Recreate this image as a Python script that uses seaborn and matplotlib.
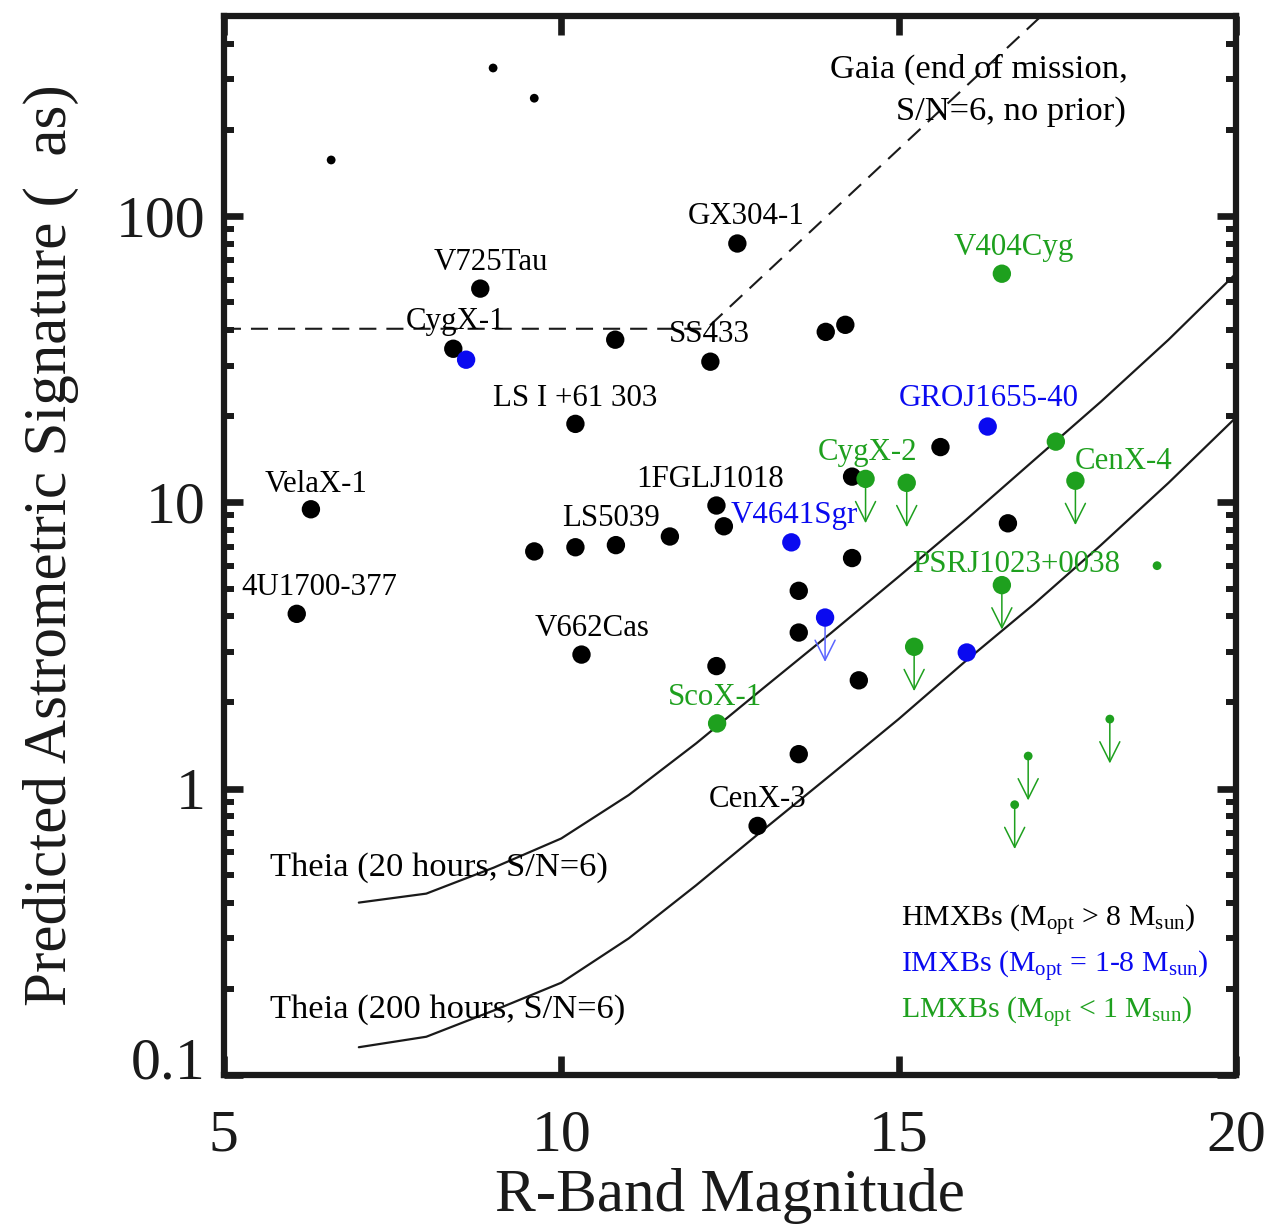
import numpy as np
import matplotlib
matplotlib.use("Agg")
import matplotlib.pyplot as plt
import matplotlib.transforms as mtransforms
from matplotlib.ticker import FixedLocator, FixedFormatter, LogLocator, NullFormatter, NullLocator
import seaborn as sns

# ---------------- data ----------------
# HMXBs (black, large dots)
hmxb_mag = [8.80, 8.40, 10.80, 12.21, 12.61, 13.92, 14.21, 10.21, 6.29, 6.08,
            9.60, 10.21, 10.81, 11.61, 12.30, 12.41, 14.31, 15.62, 16.62, 14.31,
            13.52, 13.52, 10.30, 12.30, 14.41, 13.52, 12.91]
hmxb_sig = [55.8, 34.4, 37.0, 31.0, 80.2, 39.4, 41.7, 18.8, 9.46, 4.08,
            6.74, 6.97, 7.09, 7.60, 9.75, 8.25, 12.3, 15.6, 8.45, 6.39,
            4.91, 3.51, 2.94, 2.68, 2.39, 1.32, 0.741]
# HMXBs (black, small dots)
hmxb_small_mag = [6.59, 8.99, 9.60]
hmxb_small_sig = [157.0, 329.0, 258.0]

# IMXBs (blue)
imxb_mag = [8.59, 13.41, 16.32, 16.01]
imxb_sig = [31.5, 7.25, 18.4, 2.99]
imxb_limit_mag = [13.91]
imxb_limit_sig = [3.96]

# LMXBs (green)
lmxb_mag = [16.53, 17.33, 12.31]
lmxb_sig = [62.9, 16.3, 1.69]
lmxb_limit_mag = [14.51, 15.12, 17.62, 16.53, 15.23]
lmxb_limit_sig = [12.08, 11.7, 11.9, 5.14, 3.13]
lmxb_small_mag = [18.83]
lmxb_small_sig = [6.01]
lmxb_small_limit_mag = [18.13, 16.92, 16.72]
lmxb_small_limit_sig = [1.75, 1.30, 0.879]

# sensitivity curves
theia_mag = [7, 8, 9, 10, 11, 12, 13, 14, 15, 16, 17, 18, 19, 20]
theia20_sig = [0.40, 0.43, 0.53, 0.67, 0.95, 1.44, 2.25, 3.5, 5.5, 8.7, 14.0, 22.5, 37.0, 63.0]
theia200_sig = [0.125, 0.136, 0.168, 0.21, 0.30, 0.46, 0.72, 1.12, 1.75, 2.8, 4.4, 7.1, 11.7, 19.8]
gaia_mag = [5.0, 12.15, 17.3]
gaia_sig = [40.4, 40.4, 549.0]

# source labels
label_names = ["V725Tau", "CygX-1", "SS433", "GX304-1", "LS I +61 303", "VelaX-1",
               "4U1700-377", "LS5039", "1FGLJ1018", "V662Cas", "CenX-3",
               "ScoX-1", "V4641Sgr", "GROJ1655-40", "V404Cyg", "CygX-2",
               "CenX-4", "PSRJ1023+0038"]
label_class = ["H", "H", "H", "H", "H", "H", "H", "H", "H", "H", "H",
               "L", "I", "I", "L", "L", "L", "L"]

x_ticks = [5, 10, 15, 20]
y_ticks = [0.1, 1, 10, 100]
y_tick_labels = ["0.1", "1", "10", "100"]

# ---------------- style ----------------
BLACK = "#000000"
BLUE = "#0a0af0"
BLUE_ARROW = "#5a64ff"
GREEN = "#1ea01e"
colors = {"H": BLACK, "I": BLUE, "L": GREEN}

sns.set_theme(style="ticks")
plt.rcParams["font.family"] = ["Liberation Serif", "DejaVu Serif"]
plt.rcParams["mathtext.fontset"] = "custom"
plt.rcParams["mathtext.rm"] = "Liberation Serif"
plt.rcParams["mathtext.it"] = "Liberation Serif:italic"
plt.rcParams["mathtext.bf"] = "Liberation Serif:bold"
plt.rcParams["text.color"] = "black"
plt.rcParams["axes.labelcolor"] = "black"
plt.rcParams["xtick.color"] = "black"
plt.rcParams["ytick.color"] = "black"
plt.rcParams["axes.edgecolor"] = "black"

fig = plt.figure(figsize=(12.72, 12.27), dpi=100)
ax = fig.add_axes([0.176, 0.1239, 0.7957, 0.8631])
ax.set_yscale("log")
ax.set_xlim(5, 20)
ax.set_ylim(0.1, 500)

# curves
sns.lineplot(x=gaia_mag, y=gaia_sig, color="k", lw=1.5, sort=False, ax=ax,
             linestyle=(0, (8.2, 4.8)), zorder=1)
sns.lineplot(x=theia_mag, y=theia20_sig, color="k", lw=1.6, sort=False, ax=ax, zorder=1)
sns.lineplot(x=theia_mag, y=theia200_sig, color="k", lw=1.6, sort=False, ax=ax, zorder=1)

BIG = 175
SMALL = 40


def dots(mags, sigs, color, size):
    sns.scatterplot(x=mags, y=sigs, s=size, color=color, edgecolor="none",
                    linewidth=0, ax=ax, zorder=3, legend=False)


LIMIT_DROP = 0.70


def limits(mags, sigs, color, lw=1.1):
    for m, s in zip(mags, sigs):
        ax.annotate("", xy=(m, s * LIMIT_DROP), xytext=(m, s),
                    arrowprops=dict(arrowstyle="->,head_length=0.9,head_width=0.45",
                                    color=color, lw=lw, shrinkA=0, shrinkB=0,
                                    mutation_scale=16),
                    zorder=2)


limits(imxb_limit_mag, imxb_limit_sig, BLUE_ARROW)
limits(lmxb_limit_mag, lmxb_limit_sig, GREEN)
limits(lmxb_small_limit_mag, lmxb_small_limit_sig, GREEN)

dots(hmxb_mag, hmxb_sig, BLACK, BIG)
dots(hmxb_small_mag, hmxb_small_sig, BLACK, SMALL)
dots(imxb_mag, imxb_sig, BLUE, BIG)
dots(imxb_limit_mag, imxb_limit_sig, BLUE, BIG)
dots(lmxb_mag, lmxb_sig, GREEN, BIG)
dots(lmxb_limit_mag, lmxb_limit_sig, GREEN, BIG)
dots(lmxb_small_mag, lmxb_small_sig, GREEN, SMALL)
dots(lmxb_small_limit_mag, lmxb_small_limit_sig, GREEN, SMALL)

# label positions (centre of text, data coords)
label_pos = [(8.96, 68.8), (8.43, 42.7), (12.20, 38.5), (12.74, 99.7),
             (10.21, 23.1), (6.36, 11.57), (6.42, 5.04), (10.73, 8.80),
             (12.21, 12.05), (10.45, 3.62), (12.91, 0.919), (12.28, 2.08),
             (13.46, 9.02), (16.34, 22.97), (16.71, 77.6), (14.54, 14.97),
             (18.34, 13.9), (16.74, 6.07)]
LFS = 22.2
for name, cls, (lx, ly) in zip(label_names, label_class, label_pos):
    ax.text(lx, ly, name, color=colors[cls], fontsize=LFS, ha="center",
            va="center", zorder=4)

# curve annotations
CFS = 24.8
ax.text(18.40, 326, "Gaia (end of mission,", fontsize=CFS, ha="right", va="center")
ax.text(18.37, 231, "S/N=6, no prior)", fontsize=CFS, ha="right", va="center")
ax.text(5.68, 0.531, "Theia (20 hours, S/N=6)", fontsize=CFS, ha="left", va="center")
ax.text(5.68, 0.169, "Theia (200 hours, S/N=6)", fontsize=CFS, ha="left", va="center")

# class key
KFS = 21.5
ax.text(15.03, 0.347, r"HMXBs (M$_{\mathrm{opt}}$ > 8 M$_{\mathrm{sun}}$)",
        color=BLACK, fontsize=KFS, ha="left", va="center")
ax.text(15.03, 0.239, r"IMXBs (M$_{\mathrm{opt}}$ = 1-8 M$_{\mathrm{sun}}$)",
        color=BLUE, fontsize=KFS, ha="left", va="center")
ax.text(15.03, 0.165, r"LMXBs (M$_{\mathrm{opt}}$ < 1 M$_{\mathrm{sun}}$)",
        color=GREEN, fontsize=KFS, ha="left", va="center")

# axes styling
for sp in ax.spines.values():
    sp.set_linewidth(4.5)
    sp.set_color("k")
    sp.set_visible(True)

ax.xaxis.set_major_locator(FixedLocator(x_ticks))
ax.xaxis.set_major_formatter(FixedFormatter([str(v) for v in x_ticks]))
ax.xaxis.set_minor_locator(NullLocator())
ax.yaxis.set_major_locator(FixedLocator(y_ticks))
ax.yaxis.set_major_formatter(FixedFormatter(y_tick_labels))
ax.yaxis.set_minor_locator(LogLocator(base=10, subs=np.arange(2, 10)))
ax.yaxis.set_minor_formatter(NullFormatter())

ax.tick_params(axis="both", which="major", direction="in", length=14, width=4.8,
               color="k", labelcolor="k", labelsize=43, top=True, right=True)
ax.tick_params(axis="y", which="minor", direction="in", length=7, width=4.3,
               color="k", left=True, right=True)
ax.tick_params(axis="x", which="major", pad=25)
ax.tick_params(axis="y", which="major", pad=13)

ax.set_xlabel("R-Band Magnitude", fontsize=44, color="k")
ax.set_ylabel("Predicted Astrometric Signature (  as)", fontsize=44, color="k")
ax.xaxis.set_label_coords(0.5, -0.088)
ax.yaxis.set_label_coords(-0.143, 0.5)
ax.grid(False)

fig.canvas.draw()
for tick in ax.yaxis.get_major_ticks():
    if tick.label1.get_text() == "0.1":
        tick.label1.set_transform(tick.label1.get_transform() +
                                  mtransforms.ScaledTranslation(0, 0.17, fig.dpi_scale_trans))

fig.savefig("out.png", dpi=100)
